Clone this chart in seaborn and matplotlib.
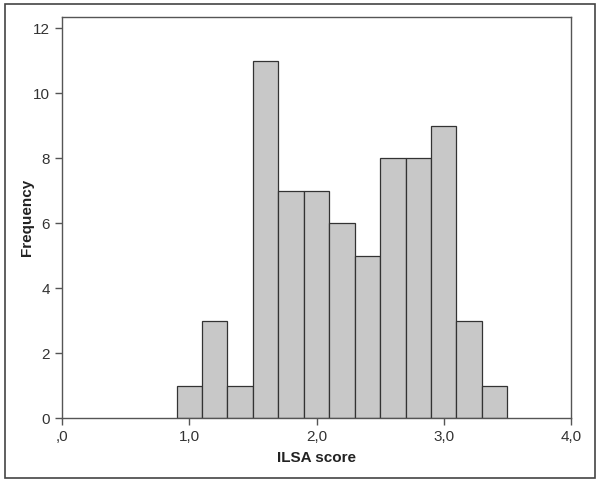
import numpy as np
import pandas as pd
import matplotlib
matplotlib.use("Agg")
import matplotlib.pyplot as plt
import seaborn as sns
from matplotlib.patches import Rectangle

bin_left = [0.9, 1.1, 1.3, 1.5, 1.7, 1.9, 2.1, 2.3, 2.5, 2.7, 2.9, 3.1, 3.3]
counts = [1, 3, 1, 11, 7, 7, 6, 5, 8, 8, 9, 3, 1]
bin_width = 0.2
xticks = [0, 1, 2, 3, 4]
xtick_labels = [",0", "1,0", "2,0", "3,0", "4,0"]
yticks = [0, 2, 4, 6, 8, 10, 12]

sns.set_style("ticks")
plt.rcParams['font.family'] = ['Liberation Sans', 'DejaVu Sans']

df = pd.DataFrame({"score": [b + bin_width / 2 for b in bin_left], "n": counts})
edges = [bin_left[0] + i * bin_width for i in range(len(bin_left) + 1)]

fig = plt.figure(figsize=(6, 4.83), dpi=100)
ax = fig.add_axes([62 / 600, 1 - 418 / 483, (571 - 62) / 600, (418 - 16.7) / 483])
sns.histplot(data=df, x="score", weights="n", bins=edges, ax=ax,
             color="#c8c8c8", edgecolor="#333333", linewidth=0.9, alpha=1)

ax.set_xlim(0, 4)
ax.set_ylim(0, 12.35)
ax.set_xticks(xticks)
ax.set_xticklabels(xtick_labels, fontsize=11, color="#333333")
ax.set_yticks(yticks)
ax.set_yticklabels([str(t) for t in yticks], fontsize=11, color="#333333")
ax.set_xlabel("ILSA score", fontsize=11, fontweight="bold", color="#222222")
ax.set_ylabel("Frequency", fontsize=11, fontweight="bold", color="#222222")
ax.xaxis.set_label_coords(0.5, (418 - 451) / 401.3)
ax.yaxis.set_label_coords((34 - 62) / 509, 0.5)
for s in ax.spines.values():
    s.set_color("#555555")
    s.set_linewidth(1.0)
ax.tick_params(colors="#555555", labelcolor="#333333", length=5, width=1)

fig.patches.append(Rectangle((5 / 600, 1 - 478 / 483), 590 / 600, 474 / 483,
                             transform=fig.transFigure, fill=False,
                             edgecolor="#444444", linewidth=1.2))
fig.savefig("out.png", dpi=100)
